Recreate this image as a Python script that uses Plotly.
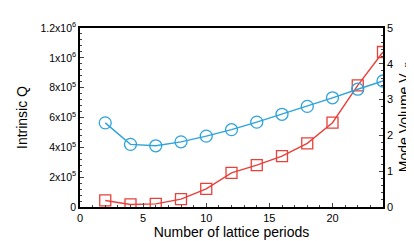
import plotly.graph_objects as go

periods = [2, 4, 6, 8, 10, 12, 14, 16, 18, 20, 22, 24]
intrinsic_q = [44000, 17000, 21000, 53000, 121000, 229000, 281000, 341000, 427000, 565000, 815000, 1039000]
mode_volume = [2.35, 1.75, 1.71, 1.82, 1.98, 2.16, 2.37, 2.59, 2.81, 3.05, 3.29, 3.52]

q_tickvals = [0, 200000, 400000, 600000, 800000, 1000000, 1200000]
q_ticktext = ["0", "2x10<sup>5</sup>", "4x10<sup>5</sup>", "6x10<sup>5</sup>",
              "8x10<sup>5</sup>", "1x10<sup>6</sup>", "1.2x10<sup>6</sup>"]
v_tickvals = [0, 1, 2, 3, 4, 5]
x_tickvals = [0, 5, 10, 15, 20]

blue = "#2ea3dc"
red = "#e8403a"
font = "Liberation Sans, Arial, sans-serif"

fig = go.Figure()
fig.add_trace(go.Scatter(
    x=periods, y=mode_volume, yaxis="y2", mode="lines+markers",
    line=dict(color=blue, width=1.4),
    marker=dict(symbol="circle-open", size=12, color=blue, line=dict(width=1.3, color=blue)),
    showlegend=False))
fig.add_trace(go.Scatter(
    x=periods, y=intrinsic_q, mode="lines+markers",
    line=dict(color=red, width=1.4),
    marker=dict(symbol="square-open", size=11, color=red, line=dict(width=1.3, color=red)),
    showlegend=False))

fig.update_layout(
    width=414, height=241,
    margin=dict(l=72, r=29, t=13, b=39),
    paper_bgcolor="white", plot_bgcolor="white",
    font=dict(family=font, size=11, color="black"),
    xaxis=dict(
        range=[0, 24], tickvals=x_tickvals, ticks="inside", ticklen=4, tickwidth=1,
        showline=True, linecolor="black", linewidth=1.5, mirror=True,
        showgrid=False, zeroline=False,
        minor=dict(dtick=1, ticks="inside", ticklen=2.5, tickwidth=1, showgrid=False),
        title=dict(text="Number of lattice periods", font=dict(size=14), standoff=3),
        tickfont=dict(size=11),
    ),
    yaxis=dict(
        range=[0, 1200000], tickvals=q_tickvals, ticktext=q_ticktext,
        ticks="inside", ticklen=4, tickwidth=1,
        showline=True, linecolor="black", linewidth=1.5,
        showgrid=False, zeroline=False,
        minor=dict(dtick=40000, ticks="inside", ticklen=2.5, tickwidth=1, showgrid=False),
        title=dict(text="Intrinsic Q", font=dict(size=14), standoff=10),
        tickfont=dict(size=10.5),
    ),
    yaxis2=dict(
        range=[0, 5], tickvals=v_tickvals, overlaying="y", side="right",
        ticks="inside", ticklen=4, tickwidth=1,
        showline=True, linecolor="black", linewidth=1.5,
        showgrid=False, zeroline=False,
        minor=dict(dtick=0.2, ticks="inside", ticklen=2.5, tickwidth=1, showgrid=False),
        title=dict(text="Mode Volume V<sub>eff</sub>", font=dict(size=14), standoff=7),
        tickfont=dict(size=11),
    ),
)

fig.write_html("out.html")
